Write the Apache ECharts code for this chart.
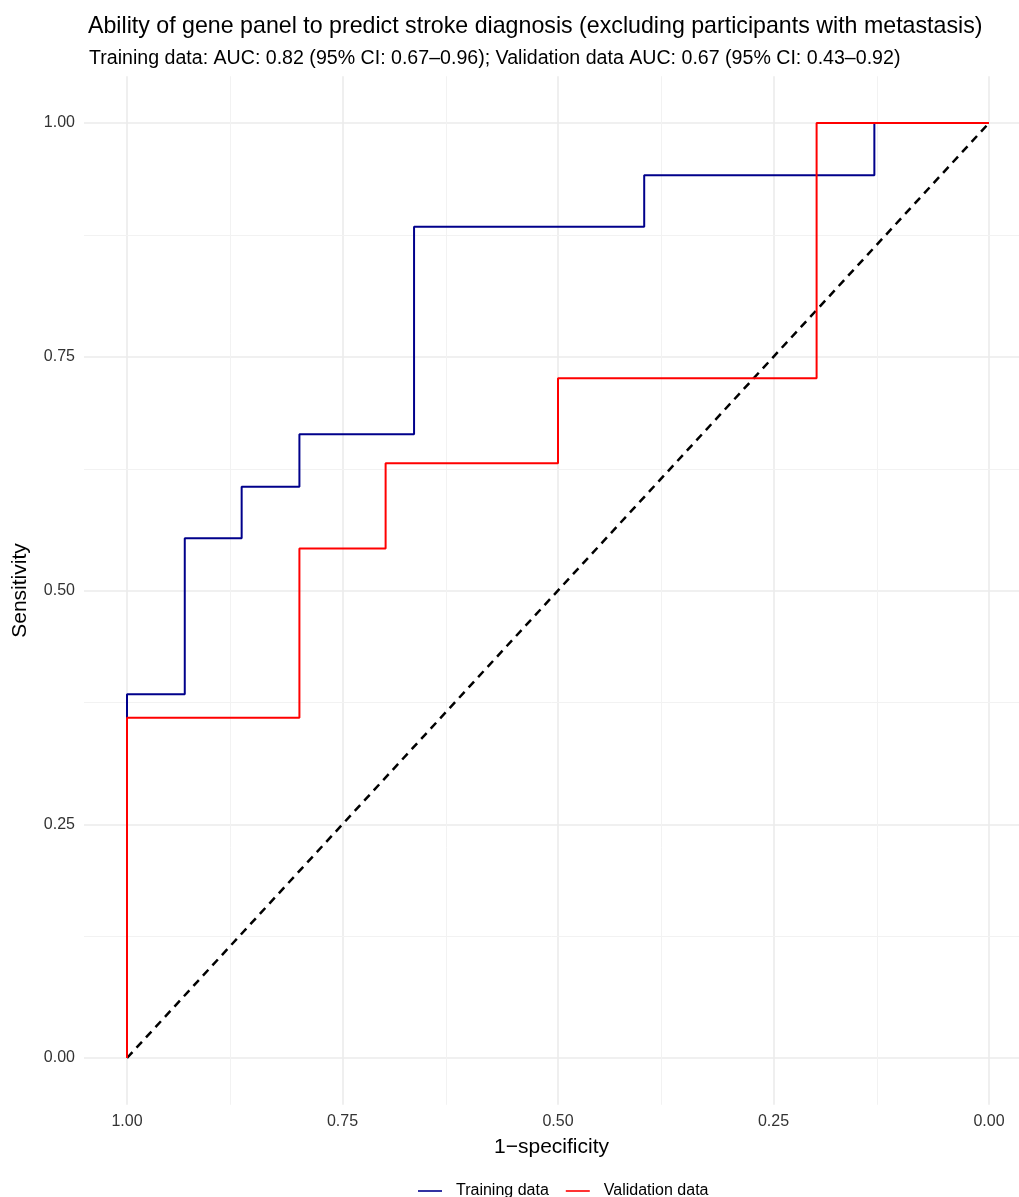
<!DOCTYPE html>
<html>
<head>
<meta charset="utf-8">
<script src="https://cdn.jsdelivr.net/npm/echarts@6/dist/echarts.min.js"></script>
<style>
  html, body { margin: 0; padding: 0; background: #fff; }
  #roc { width: 1019px; height: 1197px; }
</style>
</head>
<body>
<div id="roc"></div>
<script>
// ROC curve points (specificity, sensitivity)
var trainSpec = [1, 1, 0.933, 0.933, 0.867, 0.867, 0.8, 0.8, 0.667, 0.667, 0.4, 0.4, 0.133, 0.133, 0];
var trainSens = [0, 0.389, 0.389, 0.556, 0.556, 0.611, 0.611, 0.667, 0.667, 0.889, 0.889, 0.944, 0.944, 1, 1];
var validSpec = [1, 1, 0.8, 0.8, 0.7, 0.7, 0.5, 0.5, 0.2, 0.2, 0];
var validSens = [0, 0.364, 0.364, 0.545, 0.545, 0.636, 0.636, 0.727, 0.727, 1, 1];
var diagSpec = [1, 0];
var diagSens = [0, 1];
var tickValues = [0, 0.25, 0.5, 0.75, 1];
var minorValues = [0.125, 0.375, 0.625, 0.875];

var titleText = 'Ability of gene panel to predict stroke diagnosis (excluding participants with metastasis)';
var subText = 'Training data: AUC: 0.82 (95% CI: 0.67\u20130.96); Validation data AUC: 0.67 (95% CI: 0.43\u20130.92)';

function pairs(xs, ys){
	var out = [];
	for (var i = 0; i < xs.length; i++) out.push([xs[i], ys[i]]);
	return out;
}

//网格线
function gridLines(){
	var d = [];
	tickValues.forEach(function(v){
		d.push({xAxis: v, lineStyle: {color: '#EBEBEB', width: 1.6, type: 'solid'}});
		d.push({yAxis: v, lineStyle: {color: '#EBEBEB', width: 1.6, type: 'solid'}});
	});
	minorValues.forEach(function(v){
		d.push({xAxis: v, lineStyle: {color: '#F2F2F2', width: 1, type: 'solid'}});
		d.push({yAxis: v, lineStyle: {color: '#F2F2F2', width: 1, type: 'solid'}});
	});
	return d;
}

var font = '"Liberation Sans", Arial, sans-serif';
var chart = echarts.init(document.getElementById('roc'));
var fmt = function(v){ return v.toFixed(2); };

var option = {
	backgroundColor: '#fff',
	animation: false,
	title: [
		{
			text: titleText,
			left: 83, top: 10,
			textStyle: {fontFamily: font, fontSize: 23.2, fontWeight: 'normal', color: '#000'}
		},
		{
			text: subText,
			left: 84, top: 44,
			textStyle: {fontFamily: font, fontSize: 19.6, fontWeight: 'normal', color: '#000'}
		}
	],
	legend: {
		top: 1178,
		left: 413,
		data: ['Training data', 'Validation data'],
		icon: 'path://M0,0 L30,0 L30,2 L0,2 Z',
		itemWidth: 24,
		itemHeight: 2,
		itemGap: 17,
		textStyle: {fontFamily: font, fontSize: 16, color: '#000', padding: [0, 0, 0, 9]}
	},
	grid: {left: 84, right: 0, top: 76.25, bottom: 92.25, containLabel: false, outerBoundsMode: 'none'},
	xAxis: {
		type: 'value',
		inverse: true,
		min: -0.0348, max: 1.0499,
		name: '1\u2212specificity',
		nameLocation: 'middle',
		nameGap: 32,
		nameTextStyle: {fontFamily: font, fontSize: 21, color: '#000'},
		axisLine: {show: false},
		axisTick: {show: false},
		splitLine: {show: false},
		axisLabel: {
			customValues: tickValues,
			formatter: fmt,
			fontFamily: font, fontSize: 16, color: '#333', margin: 9
		}
	},
	yAxis: {
		type: 'value',
		min: -0.05, max: 1.05,
		name: 'Sensitivity',
		nameLocation: 'middle',
		nameGap: 53,
		nameTextStyle: {fontFamily: font, fontSize: 21, color: '#000'},
		axisLine: {show: false},
		axisTick: {show: false},
		splitLine: {show: false},
		axisLabel: {
			customValues: tickValues,
			formatter: fmt,
			fontFamily: font, fontSize: 16, color: '#333', margin: 9
		}
	},
	series: [
		{
			name: 'grid',
			type: 'line',
			data: [],
			silent: true,
			z: 0,
			markLine: {
				silent: true,
				z: 0,
				symbol: ['none', 'none'],
				label: {show: false},
				animation: false,
				data: gridLines()
			}
		},
		{
			name: 'diagonal',
			type: 'line',
			data: pairs(diagSpec, diagSens),
			showSymbol: false,
			symbol: 'none',
			lineStyle: {color: '#000', width: 2.5, type: [8, 6]},
			z: 10
		},
		{
			name: 'Training data',
			type: 'line',
			data: pairs(trainSpec, trainSens),
			showSymbol: false,
			symbol: 'none',
			itemStyle: {color: '#00008B'},
			lineStyle: {color: '#00008B', width: 2},
			z: 11
		},
		{
			name: 'Validation data',
			type: 'line',
			data: pairs(validSpec, validSens),
			showSymbol: false,
			symbol: 'none',
			itemStyle: {color: '#FF0000'},
			lineStyle: {color: '#FF0000', width: 2},
			z: 12
		}
	]
};
chart.setOption(option);
</script>
</body>
</html>
